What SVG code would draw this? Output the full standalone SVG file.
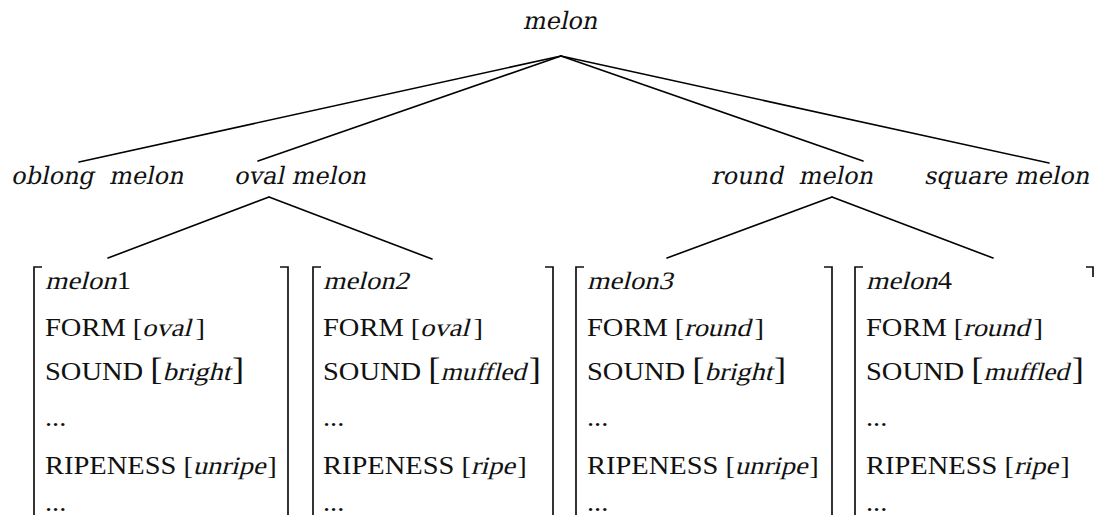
<svg xmlns="http://www.w3.org/2000/svg" width="1094" height="515" viewBox="0 0 1094 515">
<style>
.lbl{font-family:"DejaVu Serif",serif;font-size:24px;fill:#111}
.avm{font-family:"Liberation Serif","Times New Roman",serif;font-size:25px;fill:#111}
.big{font-size:32px}
.edge{stroke:#000;stroke-width:1.6;fill:none;stroke-linecap:round}
.br{stroke:#111;stroke-width:1.7;fill:none}
</style>
<rect width="1094" height="515" fill="#fff"/>
<g id="connectors">
<line class="edge" x1="561" y1="56" x2="79" y2="162"/>
<line class="edge" x1="561" y1="56" x2="258" y2="161"/>
<line class="edge" x1="561" y1="56" x2="863" y2="161"/>
<line class="edge" x1="561" y1="56" x2="1049" y2="163"/>
<line class="edge" x1="269" y1="197" x2="108" y2="258"/>
<line class="edge" x1="269" y1="197" x2="432" y2="259"/>
<line class="edge" x1="832" y1="197" x2="667" y2="258"/>
<line class="edge" x1="832" y1="197" x2="993" y2="258"/>
</g>
<g id="root"><text class="lbl" transform="translate(560,29) skewX(-12)" text-anchor="middle">melon</text></g>
<g id="oblong"><text class="lbl" transform="translate(11,184) skewX(-12)" xml:space="preserve">oblong  melon</text></g>
<g id="oval"><text class="lbl" transform="translate(234,184) skewX(-12)">oval melon</text></g>
<g id="round"><text class="lbl" transform="translate(711,184) skewX(-12)" xml:space="preserve">round  melon</text></g>
<g id="square"><text class="lbl" transform="translate(924,184) skewX(-12)">square melon</text></g>

<g id="melon1">
<path class="br" d="M42,267 H34 V515 M280,267 H288 V515"/>
<g class="avm" transform="translate(45,0) scale(1.14,1)">
<text transform="translate(0,289) skewX(-13)">melon</text><text x="63" y="289">1</text>
<text x="0" y="336">FORM [</text><text transform="translate(85,336) skewX(-13)">oval</text><text x="132" y="336">]</text>
<text x="0" y="380" xml:space="preserve">SOUND <tspan class="big">[</tspan></text><text transform="translate(103,380) skewX(-13)">bright</text><text class="big" x="164" y="380">]</text>
<text x="0" y="426">...</text>
<text x="0" y="474">RIPENESS [</text><text transform="translate(129.5,474) skewX(-13)">unripe</text><text x="195" y="474">]</text>
<text x="0" y="511">...</text>
</g>
</g>

<g id="melon2">
<path class="br" d="M321,267 H313 V515 M545,267 H553 V515"/>
<g class="avm" transform="translate(323,0) scale(1.14,1)">
<text transform="translate(0,289) skewX(-13)">melon2</text>
<text x="0" y="336">FORM [</text><text transform="translate(85,336) skewX(-13)">oval</text><text x="132" y="336">]</text>
<text x="0" y="380" xml:space="preserve">SOUND <tspan class="big">[</tspan></text><text transform="translate(103,380) skewX(-13) scale(0.95,1)">muffled</text><text class="big" x="180.5" y="380">]</text>
<text x="0" y="426">...</text>
<text x="0" y="474">RIPENESS [</text><text transform="translate(129.5,474) skewX(-13)">ripe</text><text x="170.5" y="474">]</text>
<text x="0" y="511">...</text>
</g>
</g>

<g id="melon3">
<path class="br" d="M584,267 H576 V515 M824,267 H832 V515"/>
<g class="avm" transform="translate(587,0) scale(1.14,1)">
<text transform="translate(0,289) skewX(-13)">melon3</text>
<text x="0" y="336">FORM [</text><text transform="translate(85,336) skewX(-13)">round</text><text x="147" y="336">]</text>
<text x="0" y="380" xml:space="preserve">SOUND <tspan class="big">[</tspan></text><text transform="translate(103,380) skewX(-13)">bright</text><text class="big" x="164" y="380">]</text>
<text x="0" y="426">...</text>
<text x="0" y="474">RIPENESS [</text><text transform="translate(129.5,474) skewX(-13)">unripe</text><text x="195" y="474">]</text>
<text x="0" y="511">...</text>
</g>
</g>

<g id="melon4">
<path class="br" d="M863,267 H855 V515 M1086,267 H1093 V277"/>
<g class="avm" transform="translate(866,0) scale(1.14,1)">
<text transform="translate(0,289) skewX(-13)">melon</text><text x="63" y="289">4</text>
<text x="0" y="336">FORM [</text><text transform="translate(85,336) skewX(-13)">round</text><text x="147" y="336">]</text>
<text x="0" y="380" xml:space="preserve">SOUND <tspan class="big">[</tspan></text><text transform="translate(103,380) skewX(-13) scale(0.95,1)">muffled</text><text class="big" x="180.5" y="380">]</text>
<text x="0" y="426">...</text>
<text x="0" y="474">RIPENESS [</text><text transform="translate(129.5,474) skewX(-13)">ripe</text><text x="170.5" y="474">]</text>
<text x="0" y="511">...</text>
</g>
</g>
</svg>
